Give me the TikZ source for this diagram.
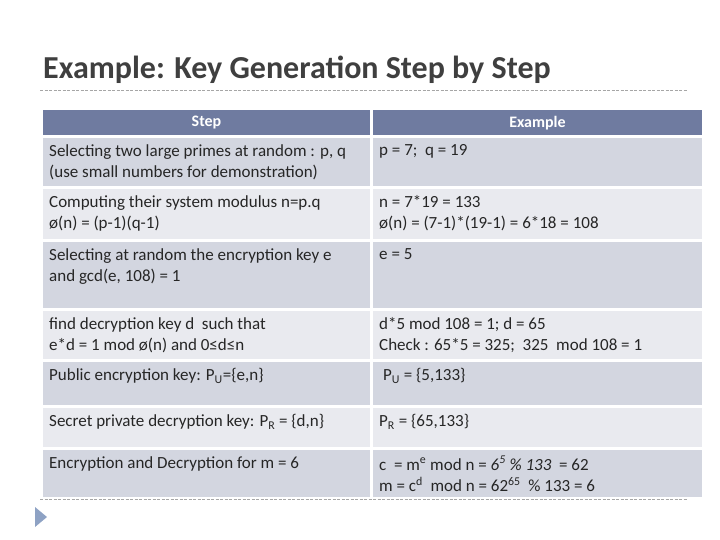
\documentclass[tikz,border=0pt]{standalone}
\usepackage{fontspec}
\setmainfont{Carlito}
\usetikzlibrary{calc}
\definecolor{headblue}{HTML}{6F7BA0}
\definecolor{rowdark}{HTML}{D3D6E0}
\definecolor{rowlight}{HTML}{E9EAEF}
\definecolor{titlegray}{HTML}{3F3F3F}
\definecolor{rulegray}{HTML}{A6A6A6}
\definecolor{markblue}{HTML}{8EA2C4}
\newcommand{\tablerow}[6]{
    % #1: name, #2: top, #3: bottom, #4: fill, #5: step text, #6: example text
    \fill[#4] (43,#2) rectangle (370,#3);
    \fill[#4] (373,#2) rectangle (702,#3);
    \node[celltext] (#1step) at (49,#2+6) {#5};
    \node[celltext] (#1ex) at (379,#2+6) {#6};
}
\begin{document}
\begin{tikzpicture}[x=1pt, y=-1pt]
    \tikzstyle{celltext}=[anchor=north west, inner sep=0, align=left, font=\fontsize{17}{21.5}\selectfont, text=black!85]
    \tikzstyle{headtext}=[inner sep=0, font=\fontsize{16}{18}\selectfont\bfseries, text=white]
    \tikzstyle{rulerow}=[rulegray, dashed, dash pattern=on 3pt off 1.5pt, line width=0.6pt]
    \useasboundingbox (0,0) rectangle (720,540);
    % title
    \node[anchor=base west, inner sep=0, font=\fontsize{32}{34}\selectfont\bfseries, text=titlegray] (title) at (43,79) {Example: Key Generation Step by Step};
    \draw[rulerow] (40,90) -- (687,90);
    % header
    \fill[headblue] (43,110) rectangle (370,135);
    \fill[headblue] (373,110) rectangle (702,135);
    \node[headtext] (hstep) at (206.5,123) {Step};
    \node[headtext] (hex) at (537.5,123) {Example};
    % rows
    \tablerow{r1}{138}{186}{rowdark}{Selecting two large primes at random : p, q\\(use small numbers for demonstration)}{p = 7;\ \ q = 19}
    \tablerow{r2}{189}{239}{rowlight}{Computing their system modulus n=p.q\\ø(n) = (p-1)(q-1)}{n = 7*19 = 133\\ø(n) = (7-1)*(19-1) = 6*18 = 108}
    \tablerow{r3}{242}{308}{rowdark}{Selecting at random the encryption key e\\and gcd(e, 108) = 1}{e = 5}
    \tablerow{r4}{311}{359}{rowlight}{find decryption key d\ \ such that\\e*d = 1 mod ø(n) and 0≤d≤n}{d*5 mod 108 = 1; d = 65\\Check : 65*5 = 325;\ \ 325\ \ mod 108 = 1}
    \tablerow{r5}{362}{405}{rowdark}{Public encryption key: P\textsubscript{U}=\{e,n\}}{\ P\textsubscript{U} = \{5,133\}}
    \tablerow{r6}{408}{447}{rowlight}{Secret private decryption key: P\textsubscript{R} = \{d,n\}}{P\textsubscript{R} = \{65,133\}}
    \tablerow{r7}{450}{497}{rowdark}{Encryption and Decryption for m = 6}{c\ \ = m\textsuperscript{e} mod n = \textit{6\textsuperscript{5} \% 133}\ \ = 62\\m = c\textsuperscript{d}\ \ mod n = 62\textsuperscript{65}\ \ \% 133 = 6}
    \draw[rulerow] (40,499) -- (687,499);
    % bullet marker
    \fill[markblue] (35,507) -- (47,517) -- (35,527) -- cycle;
\end{tikzpicture}
\end{document}
